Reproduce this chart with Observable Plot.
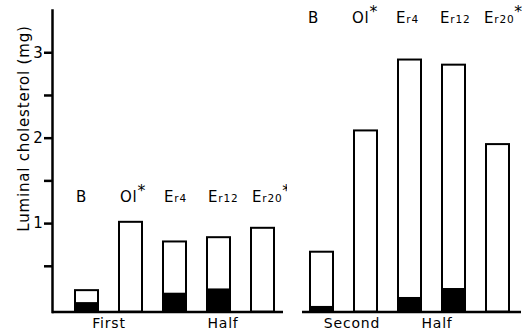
<!DOCTYPE html>
<html><head><meta charset="utf-8">
<script src="https://cdn.jsdelivr.net/npm/d3@7"></script>
<script src="https://cdn.jsdelivr.net/npm/@observablehq/plot@0.6"></script>
<style>
body{margin:0;background:#fff;}
#chart{display:flex;width:522px;height:335px;overflow:hidden;}
#chart svg{font-family:"DejaVu Sans",sans-serif;letter-spacing:0.8px;flex:none;}
</style></head><body><div id="chart"></div>
<script>
const treatments = ["B", "Ol", "Er4", "Er12", "Er20"];
const starred = [false, true, false, false, true];
const firstTotal = [0.25, 1.05, 0.82, 0.87, 0.98];
const firstBlack = [0.11, 0, 0.22, 0.27, 0];
const secondTotal = [0.70, 2.12, 2.95, 2.89, 1.96];
const secondBlack = [0.065, 0, 0.17, 0.275, 0];
const yTicks = [0.5, 1, 1.5, 2, 2.5, 3];
const yTickLabels = ["", "1", "", "2", "", "3"];
const yTitle = "Luminal cholesterol (mg)";
const firstWords = ["First", "Half"];
const secondWords = ["Second", "Half"];

function decorate(svg) {
  d3.select(svg).selectAll("text").each(function () {
    const t = d3.select(this);
    if (this.querySelector("tspan")) return;
    const s = t.text();
    const i = treatments.indexOf(s);
    if (i < 0) return;
    t.text(null);
    if (s.startsWith("Er")) {
      t.append("tspan").text("E");
      t.append("tspan").attr("font-size", "0.7em").text(s.slice(1));
    } else {
      t.append("tspan").text(s);
    }
    if (starred[i]) t.append("tspan").attr("dy", "-0.4em").attr("font-size", "1.05em").style("letter-spacing", "0px").text("*");
  });
  return svg;
}

function panel(o) {
  const data = treatments.map((t, i) => ({t, total: o.total[i], black: o.black[i]}));
  const words = o.words.map((w, i) => ({w, at: o.wordAt[i], dx: o.wordDx[i]}));
  return decorate(Plot.plot({
    width: o.width, height: 335,
    marginTop: 10, marginBottom: 23.5, marginLeft: o.marginLeft, marginRight: o.marginRight,
    x: {domain: treatments, paddingInner: 0.48, paddingOuter: 0.24, insetLeft: o.insetLeft, insetRight: o.insetRight, axis: null},
    y: {domain: [0, 3.53], axis: null},
    style: {background: "white", color: "black", fontSize: "14px", overflow: "visible"},
    marks: [
      o.axis ? Plot.axisY({ticks: yTicks, tickFormat: d => yTickLabels[yTicks.indexOf(d)], tickSize: 8, tickPadding: 1, strokeWidth: 2.5, fontSize: 15, dy: -3}) : null,
      o.axis ? Plot.frame({anchor: "left", strokeWidth: 2.5}) : null,
      o.axis ? Plot.text([yTitle], {frameAnchor: "top-left", textAnchor: "middle", dx: -34, dy: 118, rotate: -90, fontSize: 15, text: d => d}) : null,
      Plot.ruleY([0], {strokeWidth: 2.5}),
      Plot.barY(data, {x: "t", y: "total", fill: "white", stroke: "black", strokeWidth: 2}),
      Plot.barY(data.filter(d => d.black > 0), {x: "t", y: "black", fill: "black"}),
      Plot.text(data, {x: "t", y: () => o.labelY, text: "t", textAnchor: "start", dx: o.labelDx, fontSize: 15}),
      ...words.map(d => Plot.text([d], {x: () => d.at, frameAnchor: "bottom", text: "w", dx: d.dx, dy: 16, fontSize: 14}))
    ].filter(Boolean)
  }));
}

const root = document.getElementById("chart");
root.appendChild(panel({
  total: firstTotal, black: firstBlack, width: 287, marginLeft: 52, marginRight: 4,
  insetLeft: 11, insetRight: -2, labelY: 1.34, labelDx: -11, axis: true,
  words: firstWords, wordAt: ["B", "Er12"], wordDx: [22, 4]
}));
root.appendChild(panel({
  total: secondTotal, black: secondBlack, width: 235, marginLeft: 15, marginRight: 1,
  insetLeft: -3, insetRight: 1, labelY: 3.44, labelDx: -14, axis: false,
  words: secondWords, wordAt: ["Ol", "Er12"], wordDx: [-14, -17]
}));
</script></body></html>
